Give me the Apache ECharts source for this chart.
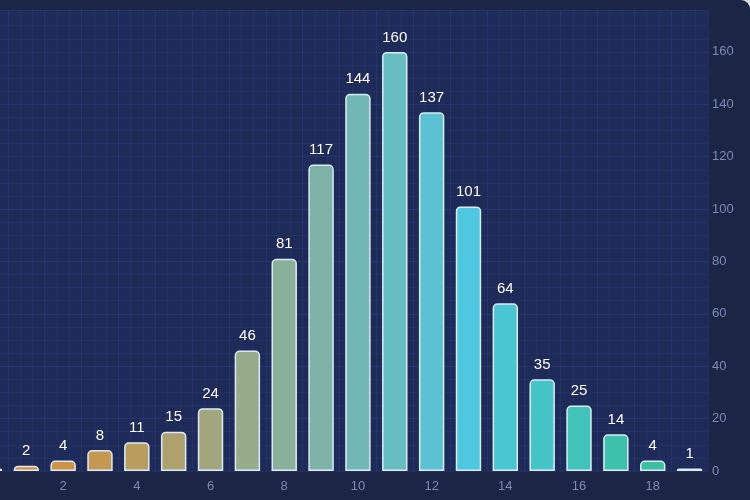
<!DOCTYPE html>
<html>
<head>
<meta charset="utf-8">
<script src="https://cdn.jsdelivr.net/npm/echarts@6/dist/echarts.min.js"></script>
<style>
  html, body { margin: 0; padding: 0; background: #d9dde4; overflow: hidden; }
  #wrap { width: 750px; height: 500px; background: #1b2546; border-top-right-radius: 9px; overflow: hidden; position: relative; }
  #main { width: 779px; height: 500px; position: absolute; left: -29px; top: 0; }
</style>
</head>
<body>
<div id="wrap"><div id="main"></div></div>
<script>
var myChart = echarts.init(document.getElementById('main'));

// histogram buckets 0..19
var categories = ['0','1','2','3','4','5','6','7','8','9','10','11','12','13','14','15','16','17','18','19'];
var counts = [1, 2, 4, 8, 11, 15, 24, 46, 81, 117, 144, 160, 137, 101, 64, 35, 25, 14, 4, 1];
var yTicks = [0, 20, 40, 60, 80, 100, 120, 140, 160];

// colour ramp orange -> cyan -> teal along the buckets
var stops = [[0, [232, 138, 38]], [13, [78, 199, 224]], [19, [52, 190, 148]]];
function rampColor(i) {
  for (var k = 0; k < stops.length - 1; k++) {
    var a = stops[k], b = stops[k + 1];
    if (i <= b[0]) {
      var t = (i - a[0]) / (b[0] - a[0]);
      var c = a[1].map(function (v, j) { return Math.round(v + (b[1][j] - v) * t); });
      return 'rgb(' + c.join(',') + ')';
    }
  }
  return 'rgb(' + stops[stops.length - 1][1].join(',') + ')';
}

var gridLine = 'rgba(70,95,190,0.18)';
var gridLineMinor = 'rgba(70,95,190,0.09)';

option = {
  animation: false,
  grid: {
    left: 0, right: 42, top: 10, bottom: 29,
    outerBoundsMode: 'none',
    show: true,
    backgroundColor: '#1e2a58',
    borderWidth: 0
  },
  xAxis: [{
    type: 'category',
    data: categories,
    axisLine: { show: false },
    axisTick: { show: false },
    axisLabel: {
      interval: 1,
      color: '#7d8bb0',
      fontSize: 13,
      fontFamily: 'Liberation Sans',
      margin: 9
    },
    splitLine: { show: false }
  }, {
    // texture only
    type: 'value',
    min: 0,
    max: 20,
    interval: 1,
    show: true,
    position: 'top',
    axisLine: { show: false },
    axisTick: { show: false },
    axisLabel: { show: false },
    splitLine: { show: true, lineStyle: { color: gridLine } },
    minorSplitLine: { show: true, lineStyle: { color: gridLineMinor } },
    minorTick: { splitNumber: 3 }
  }],
  yAxis: {
    type: 'value',
    position: 'right',
    min: 0,
    max: 176,
    interval: 20,
    axisLine: { show: false },
    axisTick: { show: false },
    axisLabel: {
      color: '#7d8bb0',
      fontSize: 13,
      fontFamily: 'Liberation Sans',
      margin: 4,
      showMaxLabel: false,
      formatter: function (v) { return yTicks.indexOf(v) >= 0 ? v : ''; }
    },
    splitLine: { show: true, lineStyle: { color: gridLine } },
    minorTick: { splitNumber: 4 },
    minorSplitLine: { show: true, lineStyle: { color: gridLineMinor } }
  },
  series: [{
    type: 'bar',
    xAxisIndex: 0,
    data: counts,
    barWidth: '69%',
    itemStyle: {
      color: function (p) { return rampColor(p.dataIndex); },
      borderColor: '#dcebf7',
      borderWidth: 1.5,
      borderRadius: [4, 4, 0, 0]
    },
    label: {
      show: true,
      position: 'top',
      distance: 7,
      color: '#ffffff',
      fontSize: 15,
      fontFamily: 'Liberation Sans'
    }
  }]
};
myChart.setOption(option);
</script>
</body>
</html>
